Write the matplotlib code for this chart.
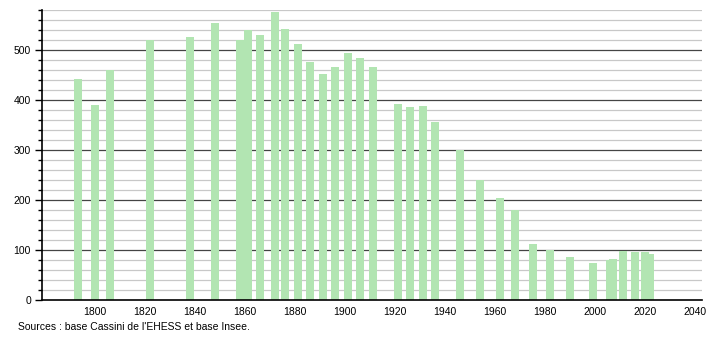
import matplotlib
matplotlib.use('Agg')
import matplotlib.pyplot as plt

plt.rcParams['font.family'] = ['Liberation Sans', 'DejaVu Sans']

years = [1793, 1800, 1806, 1822, 1838, 1848, 1858, 1861, 1866, 1872, 1876, 1881,
         1886, 1891, 1896, 1901, 1906, 1911, 1921, 1926, 1931, 1936, 1946, 1954,
         1962, 1968, 1975, 1982, 1990, 1999, 2006, 2007, 2011, 2016, 2020, 2022]
pop = [442, 390, 460, 520, 526, 554, 520, 540, 530, 576, 542, 512,
       476, 452, 466, 494, 484, 466, 392, 386, 388, 356, 300, 240,
       204, 180, 112, 100, 86, 74, 80, 83, 99, 96, 96, 93]
xticks = list(range(1800, 2041, 20))
yticks = list(range(0, 501, 100))
source = "Sources : base Cassini de l'EHESS et base Insee."

fig = plt.figure(figsize=(7.1, 3.4), dpi=100)
ax = fig.add_axes([42/710, 40/340, 660/710, 290/340])

# grid lines: light every 20, dark every 100
for v in range(20, 581, 20):
    if v % 100 == 0:
        ax.axhline(v, color='#444444', lw=0.9, zorder=1)
    else:
        ax.axhline(v, color='#c8c8c8', lw=0.9, zorder=1)

ax.bar(years, pop, width=3.2, color='#b2e5b2', zorder=2)

ax.set_xlim(1778.8, 2042.8)
ax.set_ylim(0, 580)
ax.set_xticks(xticks)
ax.set_yticks(yticks)
ax.set_yticks(range(0, 581, 20), minor=True)
ax.tick_params(axis='x', length=0, labelsize=7.5, pad=5)
ax.tick_params(axis='y', which='major', length=5, width=1, labelsize=7.5, pad=3)
ax.tick_params(axis='y', which='minor', length=3, width=1)
for s in ['top', 'right']:
    ax.spines[s].set_visible(False)
ax.spines['left'].set_linewidth(1.2)
ax.spines['bottom'].set_linewidth(1.2)

fig.text(18/710, 1 - 327/340, source, fontsize=7.5, va='center', ha='left')

fig.savefig('out.png', dpi=100)
